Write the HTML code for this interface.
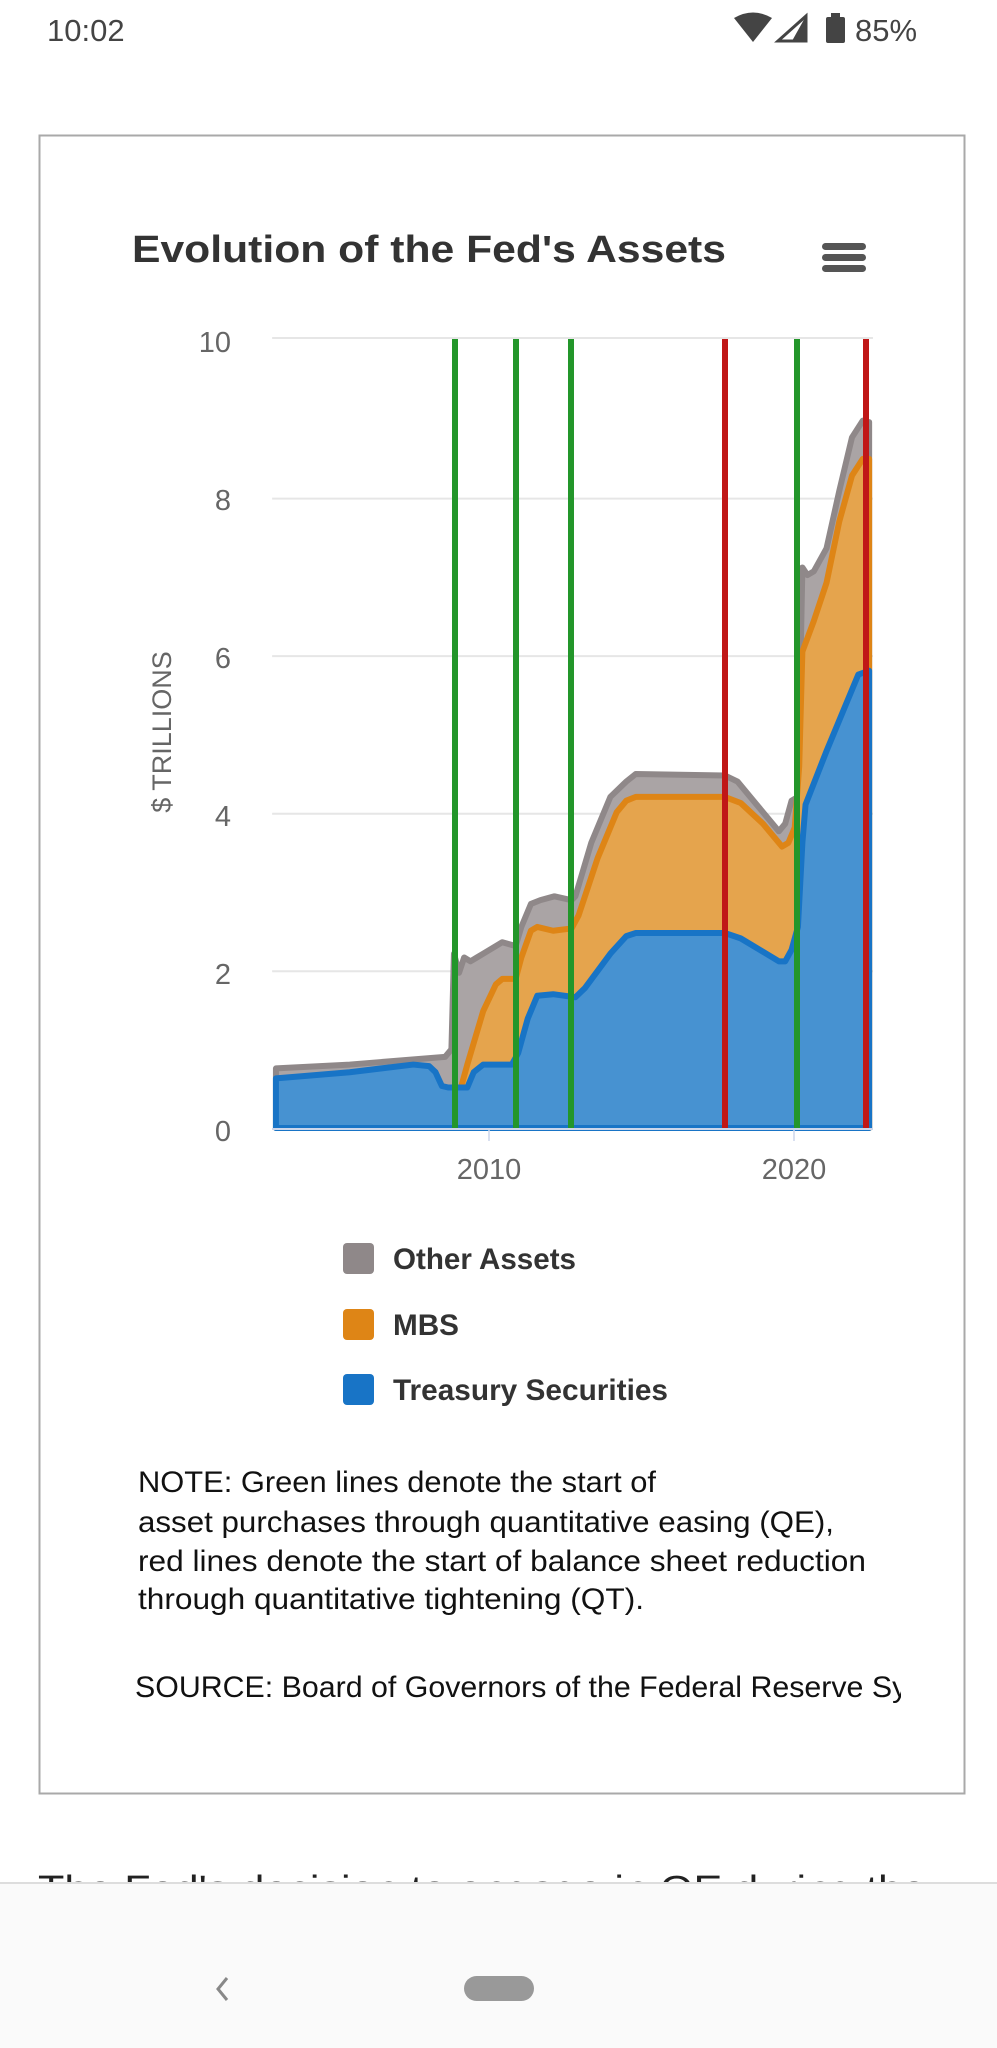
<!DOCTYPE html>
<html><head><meta charset="utf-8"><style>
html,body{margin:0;padding:0;background:#fff;width:997px;height:2048px;overflow:hidden}
svg{display:block}
text{font-family:"Liberation Sans",sans-serif}
</style></head><body>
<svg width="997" height="2048" viewBox="0 0 997 2048" xmlns="http://www.w3.org/2000/svg">
<rect width="997" height="2048" fill="#fff"/>
<!-- status bar -->
<text x="47" y="41" font-size="31" fill="#444">10:02</text>
<path d="M734,18 Q753,7 772,18 L753,42 Z" fill="#444"/>
<path d="M806,16 L806,41 L778,41 Z" fill="none" stroke="#444" stroke-width="3"/>
<path d="M806,16 L806,41 L792,41 Z" fill="#444"/>
<rect x="826" y="17" width="19" height="26" rx="2" fill="#444"/><rect x="831" y="13" width="9" height="5" fill="#444"/>
<text x="855" y="41" font-size="31" fill="#444">85%</text>
<!-- card -->
<rect x="39.5" y="135.5" width="925" height="1658" fill="#fff" stroke="#a9a9a9" stroke-width="2"/>
<text x="132" y="262" font-size="38" font-weight="bold" fill="#333" textLength="594" lengthAdjust="spacingAndGlyphs">Evolution of the Fed's Assets</text>
<rect x="822" y="243" width="44" height="7" rx="3.5" fill="#555"/>
<rect x="822" y="254" width="44" height="7" rx="3.5" fill="#555"/>
<rect x="822" y="265" width="44" height="7" rx="3.5" fill="#555"/>
<g transform="translate(0,1.5) scale(0.6358,0.7648)">
<g stroke="#e6e6e6" stroke-width="2">
<line x1="428" y1="440" x2="1373" y2="440" vector-effect="non-scaling-stroke"/>
<line x1="428" y1="650" x2="1373" y2="650" vector-effect="non-scaling-stroke"/>
<line x1="428" y1="856" x2="1373" y2="856" vector-effect="non-scaling-stroke"/>
<line x1="428" y1="1062" x2="1373" y2="1062" vector-effect="non-scaling-stroke"/>
<line x1="428" y1="1268" x2="1373" y2="1268" vector-effect="non-scaling-stroke"/>
</g>
<path vector-effect="non-scaling-stroke" d="M434,1473 L434,1395 L550,1390 L700,1380 L710,1370 L714,1245 L722,1270 L730,1250 L740,1255 L750,1250 L760,1245 L790,1230 L811,1235 L820,1210 L835,1180 L850,1175 L872,1170 L899,1175 L905,1170 L930,1100 L960,1040 L985,1020 L1000,1010 L1140,1012 L1160,1020 L1190,1050 L1225,1085 L1235,1075 L1245,1045 L1255,1040 L1262,740 L1270,750 L1280,745 L1300,715 L1320,640 L1340,570 L1357,548 L1367,550 L1367,1473 Z" fill="#aaa4a5" stroke="#8f8889" stroke-width="6" stroke-linejoin="round"/>
<path vector-effect="non-scaling-stroke" d="M705,1473 L705,1420 L725,1420 L735,1390 L760,1320 L780,1285 L790,1278 L811,1278 L820,1250 L835,1215 L845,1210 L870,1215 L899,1212 L910,1195 L940,1120 L970,1060 L985,1045 L1000,1040 L1140,1040 L1165,1048 L1200,1075 L1230,1105 L1240,1100 L1250,1080 L1257,1000 L1262,850 L1280,810 L1300,760 L1320,680 L1340,620 L1357,598 L1367,598 L1367,1473 Z" fill="#e5a44d" stroke="#de8516" stroke-width="6" stroke-linejoin="round"/>
<path vector-effect="non-scaling-stroke" d="M434,1473 L434,1408 L550,1400 L650,1390 L675,1392 L685,1400 L695,1418 L705,1420 L735,1420 L745,1400 L760,1390 L805,1390 L815,1375 L830,1330 L845,1300 L870,1298 L905,1302 L920,1290 L960,1245 L985,1222 L1000,1218 L1140,1218 L1165,1225 L1225,1255 L1235,1255 L1245,1240 L1255,1210 L1262,1100 L1267,1050 L1300,980 L1350,880 L1367,875 L1367,1473 Z" fill="#4792d1" stroke="#1874c6" stroke-width="6" stroke-linejoin="round"/>
</g>
<line x1="272" y1="1129" x2="873" y2="1129" stroke="#ccd6eb" stroke-width="2"/>
<line x1="489" y1="1129" x2="489" y2="1141" stroke="#ccd6eb" stroke-width="1.5"/>
<line x1="794" y1="1129" x2="794" y2="1141" stroke="#ccd6eb" stroke-width="1.5"/>
<g stroke-width="6">
<line x1="455" y1="339" x2="455" y2="1128" stroke="#23962a"/>
<line x1="516" y1="339" x2="516" y2="1128" stroke="#23962a"/>
<line x1="571" y1="339" x2="571" y2="1128" stroke="#23962a"/>
<line x1="725" y1="339" x2="725" y2="1128" stroke="#c01717"/>
<line x1="797" y1="339" x2="797" y2="1128" stroke="#23962a"/>
<line x1="866" y1="339" x2="866" y2="1128" stroke="#c01717"/>
</g>
<g font-size="29" fill="#666" text-anchor="end">
<text x="231" y="352">10</text>
<text x="231" y="510">8</text>
<text x="231" y="668">6</text>
<text x="231" y="826">4</text>
<text x="231" y="984">2</text>
<text x="231" y="1141">0</text>
</g>
<text transform="translate(171,732) rotate(-90)" font-size="27" fill="#666" text-anchor="middle">$ TRILLIONS</text>
<g font-size="29" fill="#666" text-anchor="middle">
<text x="489" y="1179">2010</text>
<text x="794" y="1179">2020</text>
</g>
<!-- legend -->
<rect x="343" y="1243" width="31" height="31" rx="4" fill="#8f8889"/>
<rect x="343" y="1309" width="31" height="31" rx="4" fill="#de8516"/>
<rect x="343" y="1374" width="31" height="31" rx="4" fill="#1874c6"/>
<g font-size="30" font-weight="bold" fill="#333">
<text x="393" y="1269" textLength="183" lengthAdjust="spacingAndGlyphs">Other Assets</text>
<text x="393" y="1335" textLength="66" lengthAdjust="spacingAndGlyphs">MBS</text>
<text x="393" y="1400" textLength="275" lengthAdjust="spacingAndGlyphs">Treasury Securities</text>
</g>
<g font-size="30" fill="#111">
<text x="138" y="1492" textLength="518" lengthAdjust="spacingAndGlyphs">NOTE: Green lines denote the start of</text>
<text x="138" y="1532" textLength="696" lengthAdjust="spacingAndGlyphs">asset purchases through quantitative easing (QE),</text>
<text x="138" y="1571" textLength="728" lengthAdjust="spacingAndGlyphs">red lines denote the start of balance sheet reduction</text>
<text x="138" y="1609" textLength="506" lengthAdjust="spacingAndGlyphs">through quantitative tightening (QT).</text>
</g>
<svg x="0" y="1640" width="901" height="80"><text x="135" y="57" font-size="30" fill="#111" textLength="838" lengthAdjust="spacingAndGlyphs">SOURCE: Board of Governors of the Federal Reserve System</text></svg>
<text x="38" y="1902" font-size="38" fill="#222" textLength="888" lengthAdjust="spacingAndGlyphs">The Fed's decision to engage in QE during the</text>
<rect x="0" y="1883" width="997" height="165" fill="#fafafa"/>
<line x1="0" y1="1883" x2="997" y2="1883" stroke="#ddd" stroke-width="2"/>
<path d="M227,1978 L218,1989 L227,2000" fill="none" stroke="#888" stroke-width="3"/>
<rect x="464" y="1976" width="70" height="25" rx="12.5" fill="#999"/>
</svg>
</body></html>
